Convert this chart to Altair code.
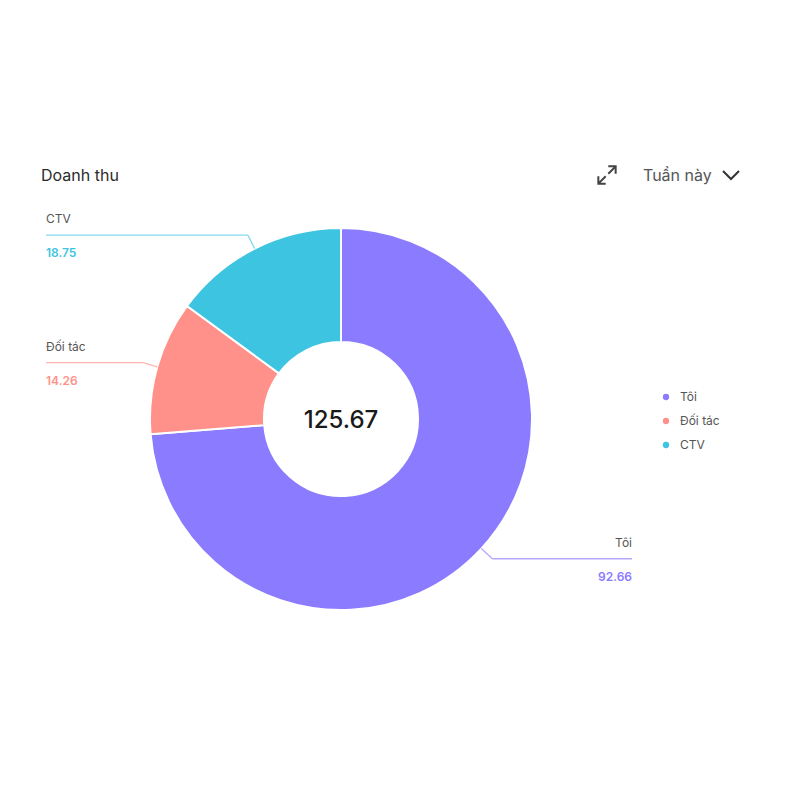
import math
import altair as alt
import pandas as pd

categories = ["Tôi", "Đối tác", "CTV"]
values = [92.66, 14.26, 18.75]
colors = ["#8B7BFF", "#FF918A", "#3DC4E0"]
title_text = "Doanh thu"
period_text = "Tuần này"

# layout (pixels in view)
W, H = 780, 780
CX, CY, R, R_IN = 333, 411, 191, 77
ELBOW = 206
LEFT_END, RIGHT_END = 38, 624

total = sum(values)
xscale = alt.Scale(domain=[-CX / R, (W - CX) / R], nice=False, zero=False)
yscale = alt.Scale(domain=[-(H - CY) / R, CY / R], nice=False, zero=False)

arc_df = pd.DataFrame({"cat": categories, "value": values, "idx": range(len(values))})

rows = []
cum = 0.0
for c, v, col in zip(categories, values, colors):
    a0 = cum / total * 2 * math.pi
    cum += v
    a1 = cum / total * 2 * math.pi
    mid = (a0 + a1) / 2
    sx, sy = math.sin(mid), math.cos(mid)
    ex, ey = sx * ELBOW / R, sy * ELBOW / R
    left = sx < 0
    endx = (LEFT_END - CX) / R if left else (RIGHT_END - CX) / R
    rows.append(dict(cat=c, value=v, valtxt=f"{v:.2f}", color=col,
                     ox=sx, oy=sy, ex=ex, ey=ey, endx=endx,
                     ny=ey + 16 / R, vy=ey - 18 / R, side="L" if left else "R"))
lab = pd.DataFrame(rows)

cscale = alt.Scale(domain=categories, range=colors)

arc = alt.Chart(arc_df).mark_arc(outerRadius=R, innerRadius=R_IN, stroke="white", strokeWidth=2).encode(
    theta=alt.Theta("value:Q", stack=True),
    order=alt.Order("idx:Q"),
    color=alt.Color("cat:N", scale=cscale, sort=categories,
                    legend=alt.Legend(title=None, orient="none", legendX=652, legendY=383,
                                      symbolType="circle", symbolSize=40, labelFontSize=12,
                                      labelColor="#555555", labelFont="Inter", rowPadding=12,
                                      symbolStrokeWidth=0, labelOffset=8)),
    x=alt.XDatum(0, type="quantitative", scale=xscale, axis=None),
    y=alt.YDatum(0, type="quantitative", scale=yscale, axis=None),
)

base = alt.Chart(lab)
radial = base.mark_rule(strokeWidth=1.3, opacity=0.65).encode(
    x=alt.X("ox:Q", scale=xscale, axis=None), y=alt.Y("oy:Q", scale=yscale, axis=None),
    x2="ex:Q", y2="ey:Q", color=alt.Color("color:N", scale=None))
horiz = base.mark_rule(strokeWidth=1.3, opacity=0.65).encode(
    x=alt.X("ex:Q", scale=xscale, axis=None), y=alt.Y("ey:Q", scale=yscale, axis=None),
    x2="endx:Q", color=alt.Color("color:N", scale=None))

def labels(side, align):
    d = base.transform_filter(alt.datum.side == side)
    name = d.mark_text(align=align, baseline="middle", fontSize=12, font="Inter", color="#555555").encode(
        x=alt.X("endx:Q", scale=xscale, axis=None), y=alt.Y("ny:Q", scale=yscale, axis=None), text="cat:N")
    val = d.mark_text(align=align, baseline="middle", fontSize=12, font="Inter", fontWeight=600).encode(
        x=alt.X("endx:Q", scale=xscale, axis=None), y=alt.Y("vy:Q", scale=yscale, axis=None), text="valtxt:N",
        color=alt.Color("color:N", scale=None))
    return name + val

center = alt.Chart(pd.DataFrame({"t": [f"{total:.2f}"]})).mark_text(
    fontSize=24, font="Inter", fontWeight=500, color="#1a1a1a", baseline="middle", align="center", dy=2).encode(
    x=alt.XDatum(0, type="quantitative", scale=xscale, axis=None),
    y=alt.YDatum(0, type="quantitative", scale=yscale, axis=None), text="t:N")

hdr = pd.DataFrame({"t": [title_text]})
title = alt.Chart(hdr).mark_text(align="left", baseline="middle", fontSize=16, font="Inter", color="#2b2b2b").encode(
    x=alt.value(33), y=alt.value(168), text="t:N")
period = alt.Chart(pd.DataFrame({"t": [period_text]})).mark_text(
    align="left", baseline="middle", fontSize=16, font="Inter", color="#555555").encode(
    x=alt.value(635), y=alt.value(168), text="t:N")
expand_path = ("M1,-1L0.15,-0.15M0.15,-1L1,-1L1,-0.15"
               "M-1,1L-0.15,0.15M-0.15,1L-1,1L-1,0.15")
expand = alt.Chart(hdr).mark_point(shape=expand_path, filled=False, size=300, stroke="#444444",
                                   strokeWidth=2, opacity=1).encode(x=alt.value(599), y=alt.value(167))
chevron = alt.Chart(hdr).mark_point(shape="M-1,-0.5L0,0.5L1,-0.5", filled=False, size=256,
                                    stroke="#333333", strokeWidth=2, opacity=1).encode(
    x=alt.value(723), y=alt.value(167))

chart = alt.layer(arc, radial, horiz, labels("L", "left"), labels("R", "right"), center,
                  title, period, expand, chevron).properties(
    width=W, height=H, autosize=alt.AutoSizeParams(type="none"), padding=0, background="white"
).configure_view(strokeWidth=0)

chart.save("out.html", embed_options={"renderer": "svg", "actions": False})
